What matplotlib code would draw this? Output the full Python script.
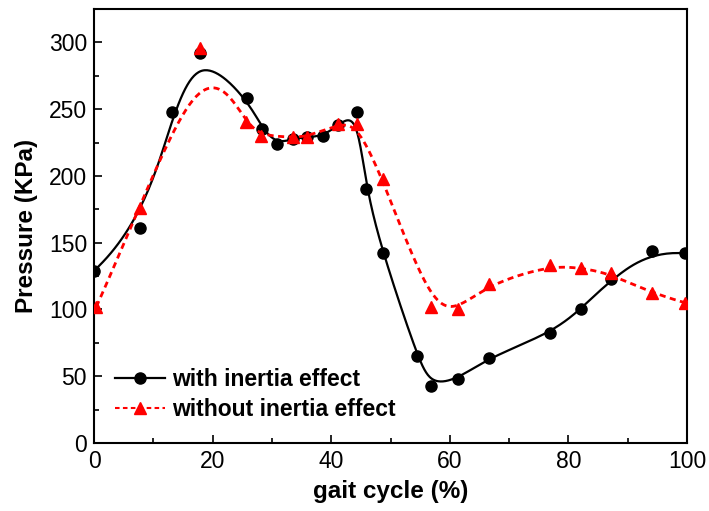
import numpy as np
import matplotlib
matplotlib.use('Agg')
import matplotlib.pyplot as plt

# values
with_x = [0, 7.8, 13.2, 17.9, 25.8, 28.4, 30.9, 33.6, 36.0, 38.6, 41.2, 44.3,
          45.9, 48.7, 54.5, 56.8, 61.4, 66.6, 76.9, 82.1, 87.2, 94.1, 99.7]
with_y = [129, 161, 248, 292, 258, 235, 224, 228, 229, 230, 238, 248,
          190, 142, 65, 43, 48, 64, 82, 100, 123, 144, 142]

without_x = [0.4, 7.8, 17.9, 25.6, 28.2, 33.6, 36.0, 41.2, 44.3, 48.7,
             56.8, 61.4, 66.6, 76.9, 82.1, 87.2, 94.1, 99.7]
without_y = [102, 176, 296, 240, 230, 229, 229.5, 238.6, 239, 198,
             102, 100, 119, 133, 131, 127, 112, 105]

xticks = [0, 20, 40, 60, 80, 100]
yticks = [0, 50, 100, 150, 200, 250, 300]


def bspline(px, py, n=600):
    # clamped cubic B-spline with the points as control points (Origin "B-Spline" connect)
    px, py = np.asarray(px, float), np.asarray(py, float)
    k = 3
    m = len(px)
    knots = np.concatenate([np.zeros(k), np.arange(m - k + 1), np.full(k, m - k)]).astype(float)
    t = np.linspace(0, m - k, n)
    t[-1] -= 1e-9
    N = np.zeros((n, len(knots) - 1))
    for i in range(len(knots) - 1):
        N[:, i] = (knots[i] <= t) & (t < knots[i + 1])
    for d in range(1, k + 1):
        Nn = np.zeros((n, len(knots) - 1 - d))
        for i in range(len(knots) - 1 - d):
            a = knots[i + d] - knots[i]
            b = knots[i + d + 1] - knots[i + 1]
            left = (t - knots[i]) / a * N[:, i] if a > 0 else 0
            right = (knots[i + d + 1] - t) / b * N[:, i + 1] if b > 0 else 0
            Nn[:, i] = left + right
        N = Nn
    return N @ px, N @ py


plt.rcParams['font.family'] = ['Liberation Sans', 'DejaVu Sans']

fig = plt.figure(figsize=(7.09, 5.11), dpi=100)
ax = fig.add_axes([0.1326, 0.1331, 0.8364, 0.8493])

cx, cy = bspline(with_x, with_y)
ax.plot(cx, cy, color='black', lw=1.6, zorder=2)
ax.plot(with_x, with_y, 'o', color='black', ms=8, zorder=3)

rx, ry = bspline(without_x, without_y)
ax.plot(rx, ry, color='red', lw=2, ls=(0, (2.2, 1.6)), zorder=4)
ax.plot(without_x, without_y, '^', color='red', ms=9, zorder=5)

# legend handles
ax.plot([], [], '-o', color='black', lw=1.6, ms=8, label='with inertia effect')
ax.plot([], [], '^', color='red', ls=(0, (2.2, 1.6)), lw=1.5, ms=9, label='without inertia effect')
ax.legend(loc='lower left', bbox_to_anchor=(0.02, 0.03), frameon=False,
          prop={'weight': 'bold', 'size': 16.5}, handlelength=2.2,
          handletextpad=0.3, labelspacing=0.3, borderaxespad=0)

ax.set_xlim(0, 100)
ax.set_ylim(0, 325)
ax.set_xticks(xticks)
ax.set_yticks(yticks)
ax.set_xticks(np.arange(10, 100, 20), minor=True)
ax.set_yticks(np.arange(25, 325, 50), minor=True)
ax.tick_params(which='both', direction='in', top=False, right=False, labelsize=16.5, width=1.2)
ax.tick_params(which='major', length=6, pad=5)
ax.tick_params(which='minor', length=3.5)
for s in ax.spines.values():
    s.set_linewidth(1.5)

ax.set_xlabel('gait cycle (%)', fontsize=17.5, fontweight='bold', labelpad=5)
ax.set_ylabel('Pressure (KPa)', fontsize=17.5, fontweight='bold', labelpad=8)

fig.savefig('out.png', dpi=100)
